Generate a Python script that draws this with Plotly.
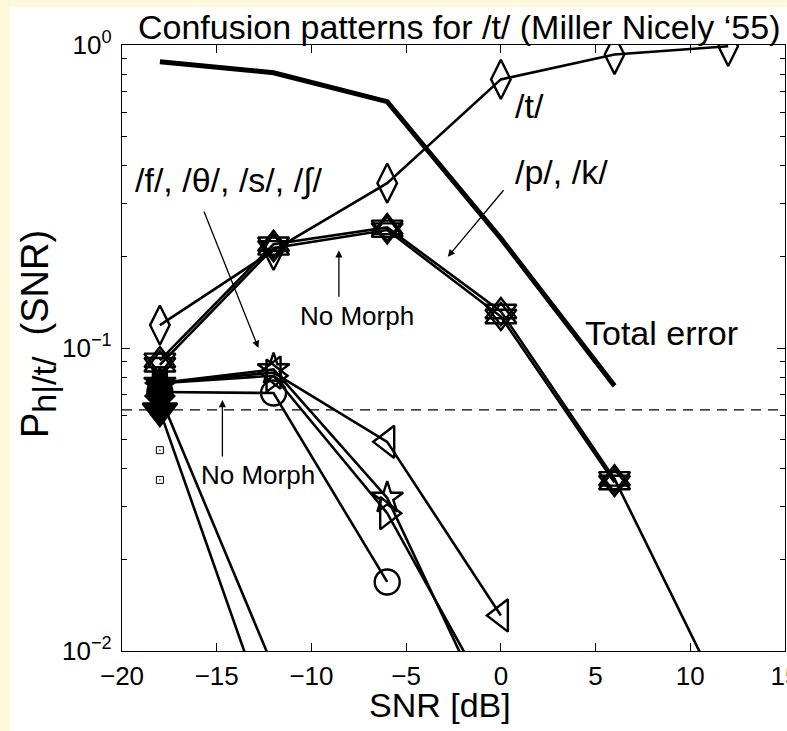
import math
import plotly.graph_objects as go

# ---------------- data ----------------
snr = [-18, -12, -6, 0, 6, 12]

total_error = [0.88, 0.81, 0.65, 0.23, 0.075]
p_t = [0.119, 0.21, 0.35, 0.77, 0.93, 0.99]
p_p = [0.091, 0.22, 0.25, 0.132, 0.037, 0.0064]
p_k = [0.088, 0.214, 0.245, 0.127, 0.036]
p_f = [0.0766, 0.083, 0.049, 0.0131]
p_th = [0.0766, 0.085, 0.032, 0.0051]
p_s = [0.0766, 0.081, 0.0285, 0.006]
p_sh = [0.0716, 0.071, 0.0169]
p_m1 = [0.062, 0.0053]
p_m2 = [0.0694, 0.0088]
p_small = [0.046, 0.0367]
chance = 1 / 16

x_ticks = [-20, -15, -10, -5, 0, 5, 10, 15]
y_ticks = [0.01, 0.1, 1]
y_ticktext = ["10<sup>\u22122</sup>", "10<sup>\u22121</sup>", "10<sup>0</sup>"]

FONT = "Liberation Sans, Arial, Helvetica, sans-serif"
LW = 2.6
MLW = 2.4

fig = go.Figure()


def add_series(y, sym, size, fill_first=False, width=LW, mode="lines+markers"):
    xs = snr[:len(y)]
    if fill_first:
        syms = [sym] + [sym + "-open"] * (len(y) - 1)
    else:
        syms = [sym + "-open"] * len(y)
    fig.add_trace(go.Scatter(
        x=xs, y=y, mode=mode,
        line=dict(color="black", width=width),
        marker=dict(symbol=syms, size=size, color="black",
                    line=dict(color="black", width=MLW)),
        showlegend=False, hoverinfo="skip"))


def add_markers(y, sym, size):
    fig.add_trace(go.Scatter(x=snr[:len(y)], y=y, mode="markers",
                             marker=dict(symbol=sym, size=size, color="black",
                                         line=dict(color="black", width=MLW)),
                             showlegend=False, hoverinfo="skip"))


# chance line
fig.add_trace(go.Scatter(x=[-20, 15], y=[chance, chance], mode="lines",
                         line=dict(color="black", width=1.3, dash="10px,7px"),
                         showlegend=False, hoverinfo="skip"))

# total error
fig.add_trace(go.Scatter(x=snr[:len(total_error)], y=total_error, mode="lines",
                         line=dict(color="black", width=5),
                         showlegend=False, hoverinfo="skip"))

# /t/
add_series(p_t, "diamond-tall", 28)
# /p/, /k/ (six-pointed: up + down triangles)
add_series(p_p, "triangle-up", 27)
add_markers(p_p, "triangle-down-open", 27)
add_series(p_k, "triangle-down", 27)
add_markers(p_k, "triangle-up-open", 27)

# fricatives
add_series(p_f, "triangle-left", 28, fill_first=True)
add_series(p_th, "star", 24, fill_first=True)
add_series(p_s, "triangle-right", 28, fill_first=True)
add_series(p_sh, "circle", 25, fill_first=True)
add_series(p_m1, "triangle-down", 30, fill_first=True)
add_series(p_m2, "diamond", 22, fill_first=True)

# small squares
fig.add_trace(go.Scatter(x=[snr[0]] * len(p_small), y=p_small, mode="markers",
                         marker=dict(symbol="square-open-dot", size=7, color="black",
                                     line=dict(color="black", width=1)),
                         showlegend=False, hoverinfo="skip"))

# ---------------- layout ----------------
L, R, T, B = 122, 2, 45, 80
W, H = 787, 731
pw, ph = W - L - R, H - T - B


def px_x(px):
    return (px - L) / pw


def px_y(py):
    return (H - B - py) / ph


annots = []


def txt(text, x, y, size, xref="x", yref="y", angle=0):
    annots.append(dict(text=text, x=x, y=y, xref=xref, yref=yref, showarrow=False,
                       font=dict(family=FONT, size=size, color="black"),
                       xanchor="center", yanchor="middle", textangle=angle))


def arrow(x, y, ax, ay):
    annots.append(dict(text="", x=x, y=y, xref="x", yref="y", ax=ax, ay=ay,
                       showarrow=True, arrowhead=2, arrowsize=1.1, arrowwidth=1.3,
                       arrowcolor="black"))


txt("Confusion patterns for /t/ (Miller Nicely \u201855)", px_x(459), px_y(27), 34,
    xref="paper", yref="paper")
txt("SNR [dB]", px_x(440), px_y(705), 34, xref="paper", yref="paper")
txt("P<sub><span style=\"font-size:34px\">h|/t/</span></sub>\u00a0\u00a0(SNR)",
    px_x(38), px_y(334), 38, xref="paper", yref="paper", angle=-90)

txt("/t/", 1.5, math.log10(0.63), 34)
txt("/p/, /k/", 3.2, math.log10(0.38), 34)
txt("/f/, /\u03b8/, /s/, /\u222b/", -14.4, math.log10(0.358), 34)
txt("No Morph", -7.6, math.log10(0.128), 26)
txt("No Morph", -12.8, math.log10(0.038), 26)
txt("Total error", 8.5, math.log10(0.112), 34)

arrow(-12.8, math.log10(0.1), -55, -138)
arrow(-2.8, math.log10(0.2), 57, -68)
arrow(-8.55, math.log10(0.21), 0, 48)
arrow(-14.7, math.log10(0.0673), 0, 58)

fig.update_layout(
    width=W, height=H, autosize=False,
    margin=dict(l=L, r=R, t=T, b=B, pad=0, autoexpand=False),
    paper_bgcolor="#FFF8DC",
    plot_bgcolor="white",
    font=dict(family=FONT, color="black"),
    annotations=annots,
    shapes=[dict(type="rect", xref="paper", yref="paper",
                 x0=px_x(10), x1=px_x(W + 5), y0=px_y(H + 5), y1=px_y(7),
                 fillcolor="white", line=dict(width=0), layer="below")],
)

fig.update_xaxes(range=[-20, 15], tickvals=x_ticks, ticks="inside", ticklen=8,
                 tickwidth=1, tickcolor="black", showline=True, linecolor="black",
                 linewidth=1.3, mirror="allticks", showgrid=False, zeroline=False,
                 tickfont=dict(size=26, family=FONT), ticklabelstandoff=2,
                 ticklabeloverflow="allow", automargin=False)
fig.update_yaxes(type="log", range=[-2, 0], tickvals=y_ticks, ticktext=y_ticktext,
                 ticks="inside", ticklen=8, tickwidth=1, tickcolor="black",
                 showline=True, linecolor="black", linewidth=1.3, mirror="allticks",
                 showgrid=False, zeroline=False, automargin=False,
                 minor=dict(ticks="inside", ticklen=5, tickwidth=1, tickcolor="black",
                            dtick="D1", showgrid=False),
                 tickfont=dict(size=26, family=FONT), ticklabelstandoff=4)

fig.write_html("out.html")
